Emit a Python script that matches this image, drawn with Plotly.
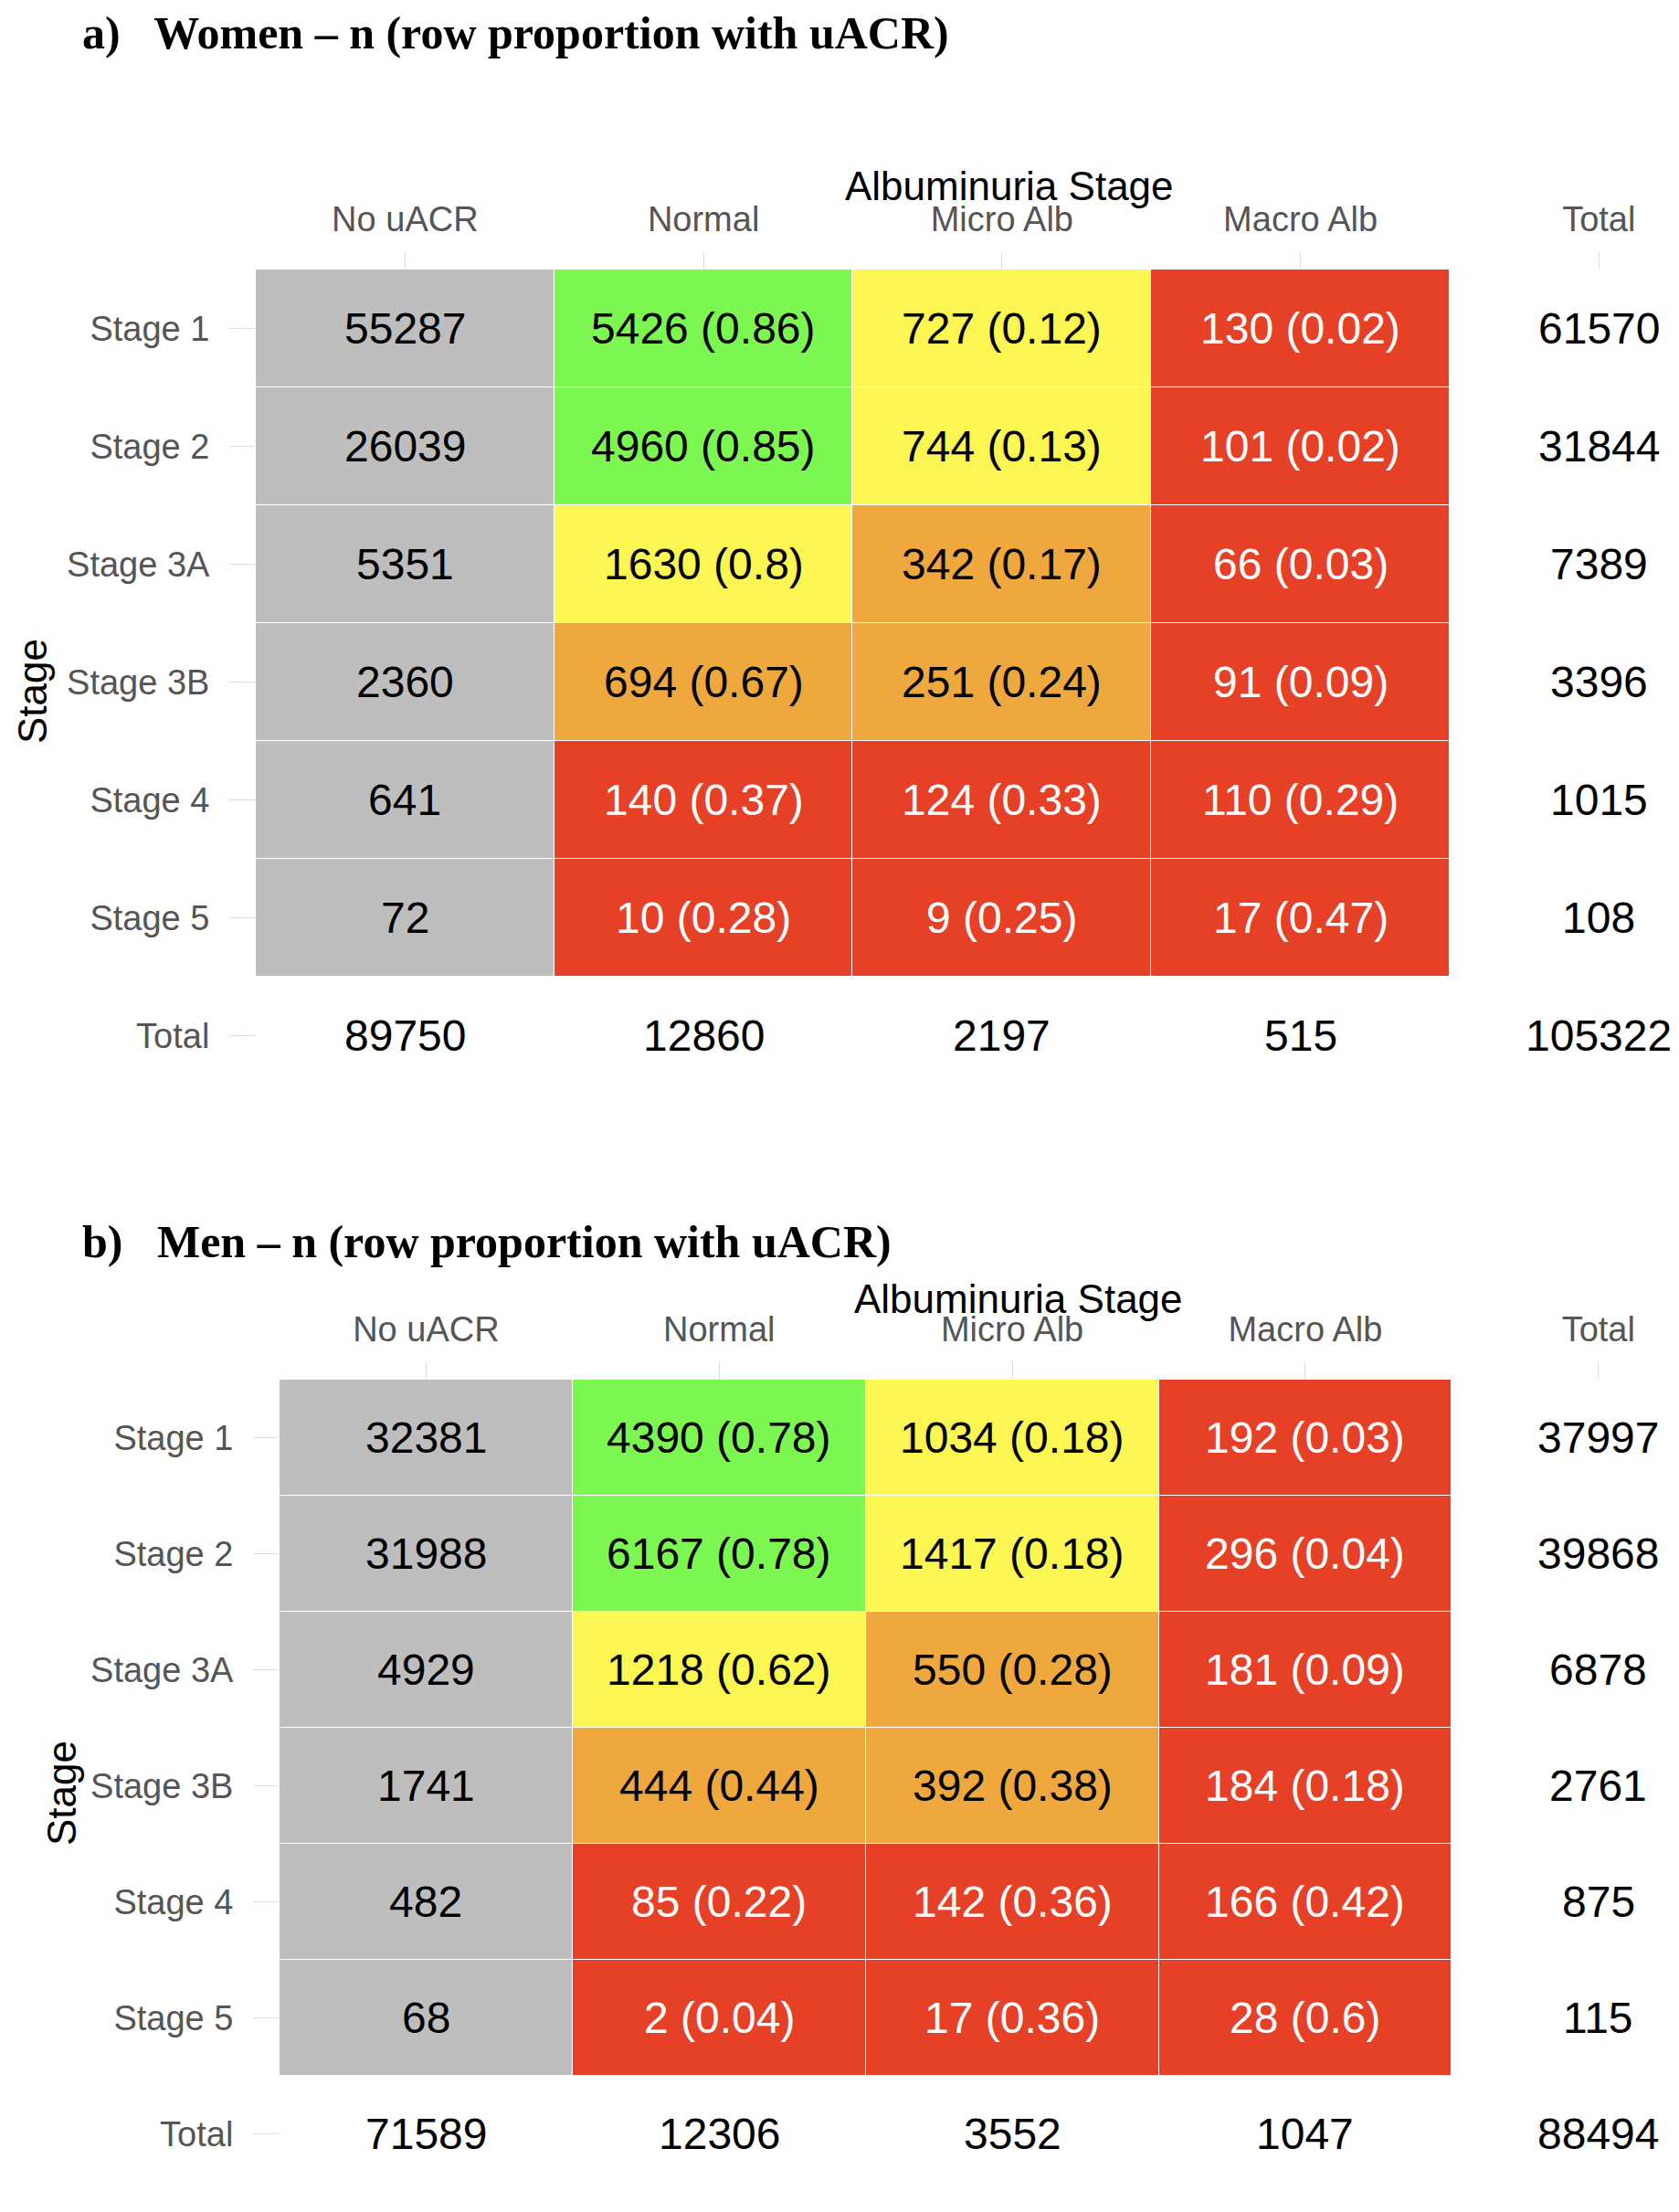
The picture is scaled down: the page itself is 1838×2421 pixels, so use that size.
import numpy as np
import plotly.graph_objects as go

W, H = 1838, 2421

cols = ['No uACR', 'Normal', 'Micro Alb', 'Macro Alb', 'Total']
rows = ['Stage 1', 'Stage 2', 'Stage 3A', 'Stage 3B', 'Stage 4', 'Stage 5', 'Total']

# women
w_n = [[55287, 5426, 727, 130], [26039, 4960, 744, 101], [5351, 1630, 342, 66],
       [2360, 694, 251, 91], [641, 140, 124, 110], [72, 10, 9, 17]]
w_p = [[None, 0.86, 0.12, 0.02], [None, 0.85, 0.13, 0.02], [None, 0.8, 0.17, 0.03],
       [None, 0.67, 0.24, 0.09], [None, 0.37, 0.33, 0.29], [None, 0.28, 0.25, 0.47]]
w_row_tot = [61570, 31844, 7389, 3396, 1015, 108]
w_col_tot = [89750, 12860, 2197, 515, 105322]
w_cls = [[0, 1, 2, 4], [0, 1, 2, 4], [0, 2, 3, 4], [0, 3, 3, 4], [0, 4, 4, 4], [0, 4, 4, 4]]

# men
m_n = [[32381, 4390, 1034, 192], [31988, 6167, 1417, 296], [4929, 1218, 550, 181],
       [1741, 444, 392, 184], [482, 85, 142, 166], [68, 2, 17, 28]]
m_p = [[None, 0.78, 0.18, 0.03], [None, 0.78, 0.18, 0.04], [None, 0.62, 0.28, 0.09],
       [None, 0.44, 0.38, 0.18], [None, 0.22, 0.36, 0.42], [None, 0.04, 0.36, 0.6]]
m_row_tot = [37997, 39868, 6878, 2761, 875, 115]
m_col_tot = [71589, 12306, 3552, 1047, 88494]
m_cls = [[0, 1, 2, 4], [0, 1, 2, 4], [0, 2, 3, 4], [0, 3, 3, 4], [0, 4, 4, 4], [0, 4, 4, 4]]

PAL = ['#BEBEBE', '#7CF651', '#FBF651', '#EEA83D', '#E64027']
cscale = []
for i, c in enumerate(PAL):
    cscale += [[i / 5, c], [(i + 1) / 5, c]]

fig = go.Figure()
annots = []
panels = [
    ('x', 'y', w_n, w_p, w_row_tot, w_col_tot, w_cls,
     [272 / W, 1824 / W], [1 - 1177 / H, 1 - 287 / H]),
    ('x2', 'y2', m_n, m_p, m_row_tot, m_col_tot, m_cls,
     [298 / W, 1822 / W], [1 - 2378 / H, 1 - 1502 / H]),
]
for xr, yr, n, p, rt, ct, cls, xd, yd in panels:
    z = np.array(cls, dtype=float)
    fig.add_trace(go.Heatmap(z=z, x=cols[:4], y=rows[:6], colorscale=cscale,
                             zmin=0, zmax=5, showscale=False, xgap=1, ygap=1,
                             hoverinfo='skip', xaxis=xr, yaxis=yr))
    for i in range(6):
        for j in range(4):
            t = str(n[i][j]) if p[i][j] is None else f'{n[i][j]} ({p[i][j]})'
            annots.append(dict(x=cols[j], y=rows[i], xref=xr, yref=yr, text=t,
                               showarrow=False,
                               font=dict(size=48, color='white' if cls[i][j] == 4 else 'black')))
        annots.append(dict(x='Total', y=rows[i], xref=xr, yref=yr, text=str(rt[i]),
                           showarrow=False, font=dict(size=48, color='black')))
    for j in range(5):
        annots.append(dict(x=cols[j], y='Total', xref=xr, yref=yr, text=str(ct[j]),
                           showarrow=False, font=dict(size=48, color='black')))
    ax = dict(domain=xd, type='category', categoryorder='array', categoryarray=cols,
              range=[-0.5, 4.25], side='top', ticks='outside', ticklen=18,
              tickcolor='#DDDDDD', showgrid=False, zeroline=False, showline=False,
              ticklabelstandoff=8,
              tickfont=dict(size=38, color='#555555'), anchor=yr)
    ay = dict(domain=yd, type='category', categoryorder='array', categoryarray=rows,
              range=[6.4, -0.5], ticks='outside', ticklen=28, tickcolor='#DDDDDD',
              showgrid=False, zeroline=False, showline=False, ticklabelstandoff=14,
              tickfont=dict(size=38, color='#555555'), anchor=xr)
    key = '' if xr == 'x' else '2'
    fig.update_layout(**{'xaxis' + key: ax, 'yaxis' + key: ay})

# titles and axis labels
for txt, y in [('<b>a)   Women – n (row proportion with uACR)</b>', 28),
               ('<b>b)   Men – n (row proportion with uACR)</b>', 1351)]:
    annots.append(dict(x=80 / W, y=1 - y / H, xref='paper', yref='paper', text=txt,
                       showarrow=False, xanchor='left', yanchor='middle',
                       font=dict(size=50, family='Liberation Serif', color='black')))
for x, y in [(1097, 196), (1107, 1413)]:
    annots.append(dict(x=x / W, y=1 - y / H, xref='paper', yref='paper',
                       text='Albuminuria Stage', showarrow=False,
                       xanchor='center', yanchor='middle',
                       font=dict(size=44, color='black')))
for x, y in [(28, 749), (59, 1955)]:
    annots.append(dict(x=x / W, y=1 - y / H, xref='paper', yref='paper', text='Stage',
                       showarrow=False, textangle=-90, xanchor='center', yanchor='middle',
                       font=dict(size=44, color='black')))

fig.update_layout(width=W, height=H, margin=dict(l=0, r=0, t=0, b=0),
                  paper_bgcolor='white', plot_bgcolor='white',
                  font=dict(family='Liberation Sans'), annotations=annots)

fig.write_html('out.html')
